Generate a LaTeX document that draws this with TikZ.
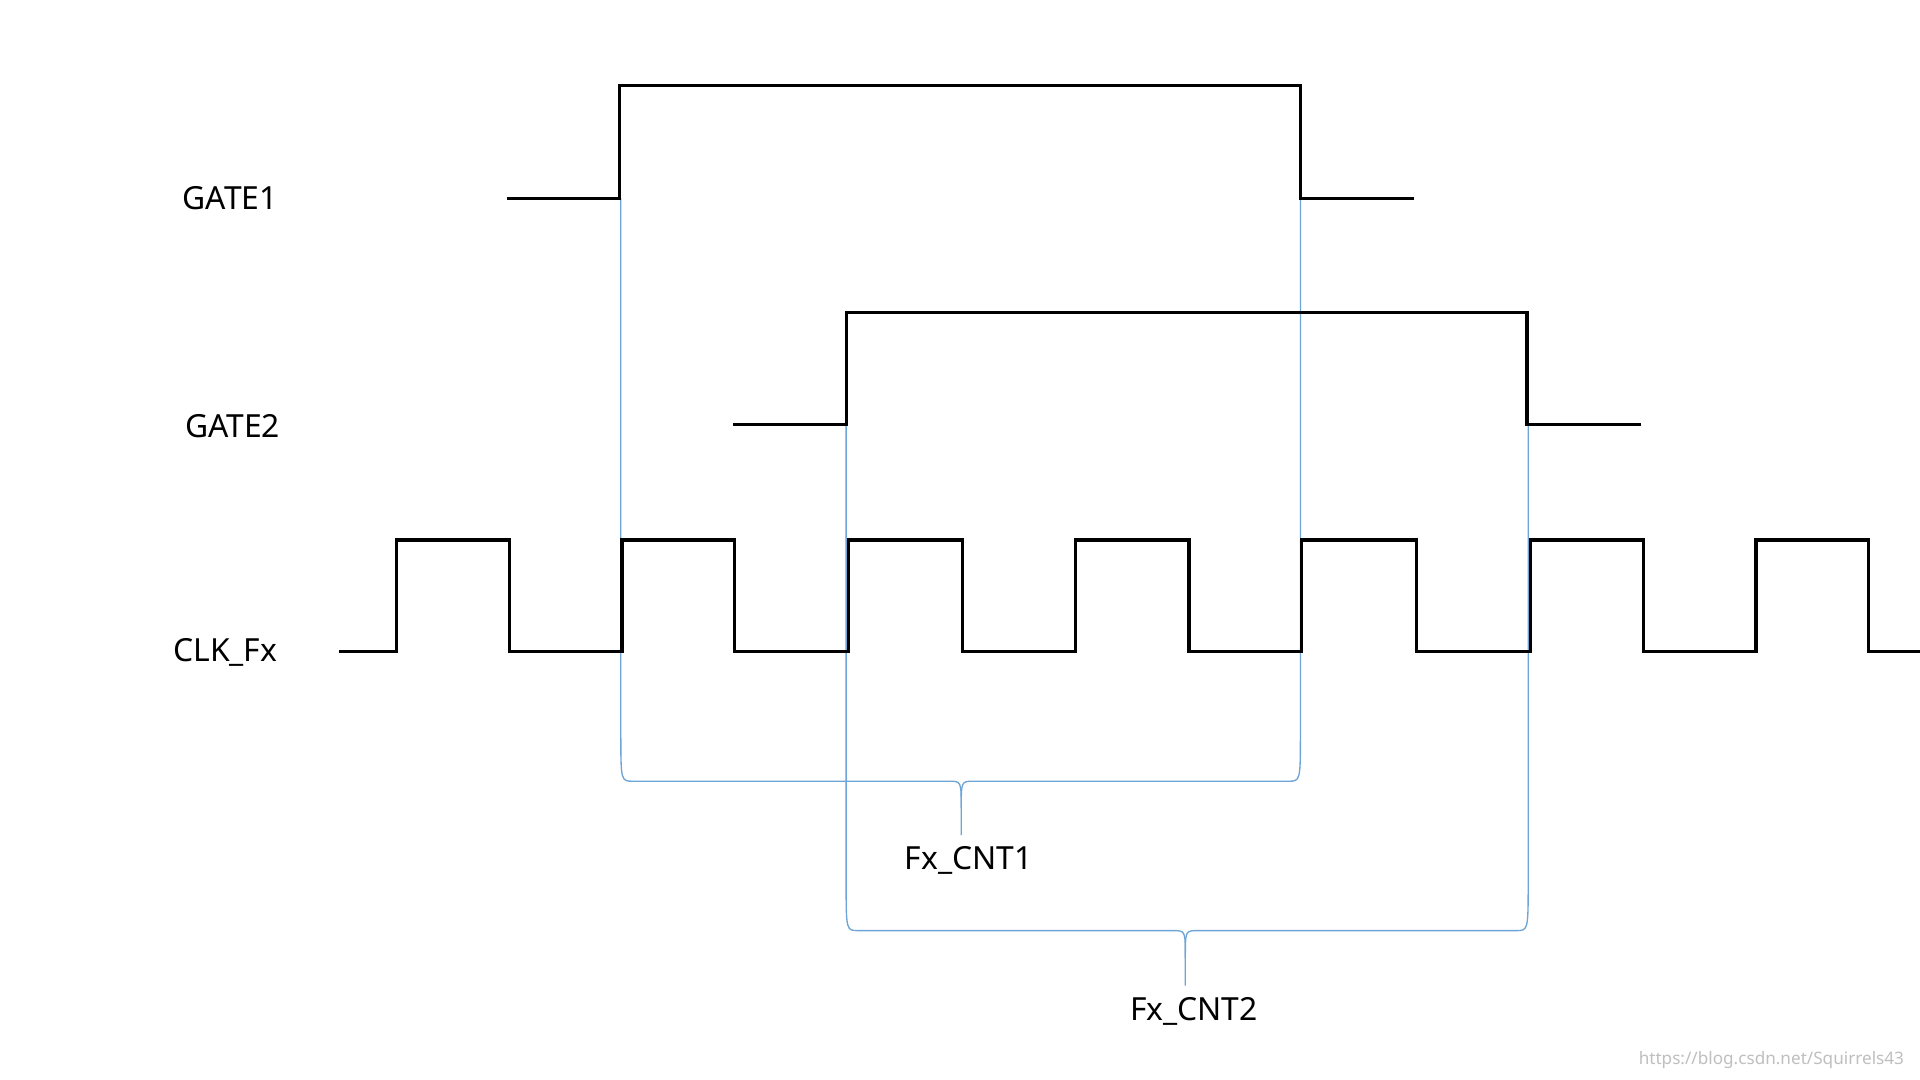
\documentclass[tikz,border=0pt]{standalone}
\usepackage{fontspec}
\setmainfont{Noto Sans}
\definecolor{bl}{RGB}{110,165,215}
\begin{document}
\begin{tikzpicture}[x=0.5pt,y=-0.5pt,
  sig/.style={line width=1.3pt,black,line join=miter},
  br/.style={line width=0.55pt,bl},
  lab/.style={font=\fontsize{13}{15}\selectfont}]
\useasboundingbox (0,0) rectangle (1568,882);
\fill[white] (0,0) rectangle (1568,882);
% labels
\node[lab] (g1) at (188,162) {GATE1};
\node[lab] (g2) at (190,348) {GATE2};
\node[lab] (ck) at (184,533) {CLK\_Fx};
\node[lab] (c1) at (791,703) {Fx\_CNT1};
\node[lab] (c2) at (975,826) {Fx\_CNT2};
\node[font=\fontsize{7}{8}\selectfont,text=black!25,anchor=east] (wm) at (1562,866) {https://blog.csdn.net/Squirrels43};
% blue brackets
\draw[br] (507,162) -- (507,598) .. controls (507,638) .. (517,638) -- (775,638)
  .. controls (785,638) .. (785,660) -- (785,682);
\draw[br] (1062,162) -- (1062,598) .. controls (1062,638) .. (1052,638) -- (795,638)
  .. controls (785,638) .. (785,660);
\draw[br] (691,305) -- (691,720) .. controls (691,760) .. (701,760) -- (958,760)
  .. controls (968,760) .. (968,782) -- (968,805);
\draw[br] (1248,305) -- (1248,720) .. controls (1248,760) .. (1238,760) -- (978,760)
  .. controls (968,760) .. (968,782);
% signals
\draw[sig] (414,162) -- (506,162) -- (506,70) -- (1062,70) -- (1062,162) -- (1155,162);
\draw[sig] (599,347) -- (691,347) -- (691,255) -- (1247,255) -- (1247,347) -- (1340,347);
\draw[sig] (277,532) -- (324,532) -- (324,441) -- (416,441) -- (416,532)
  -- (508,532) -- (508,441) -- (600,441) -- (600,532)
  -- (693,532) -- (693,441) -- (786,441) -- (786,532)
  -- (878,532) -- (878,441) -- (971,441) -- (971,532)
  -- (1063,532) -- (1063,441) -- (1157,441) -- (1157,532)
  -- (1250,532) -- (1250,441) -- (1342,441) -- (1342,532)
  -- (1434,532) -- (1434,441) -- (1526,441) -- (1526,532) -- (1568,532);
\end{tikzpicture}
\end{document}
